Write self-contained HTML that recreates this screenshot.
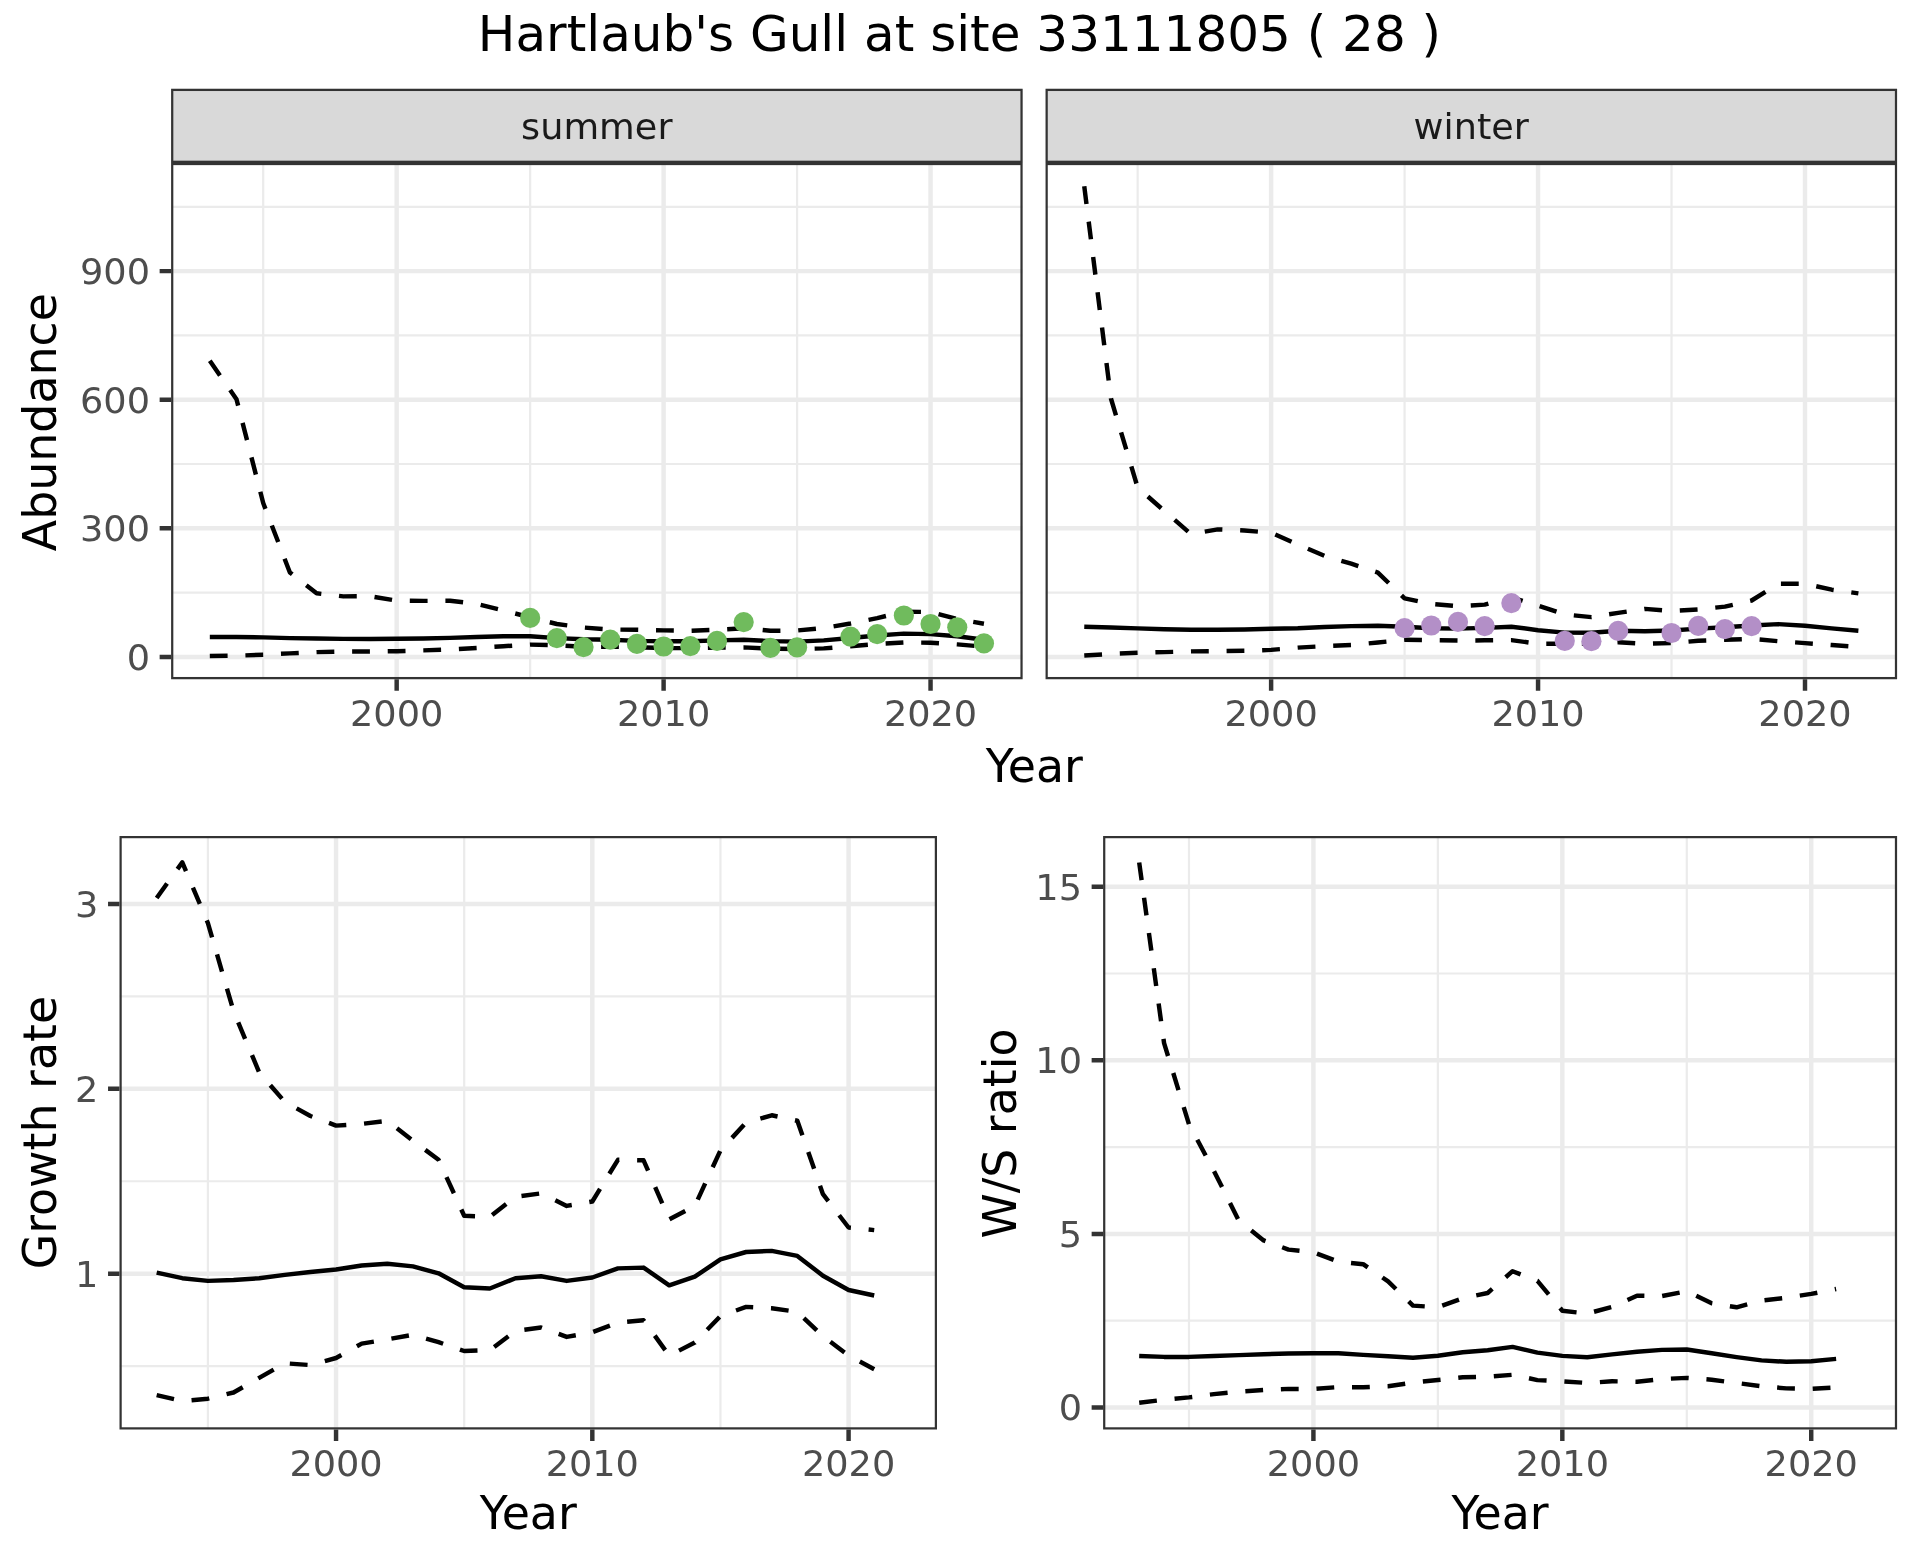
<!DOCTYPE html>
<html lang="en"><head><meta charset="utf-8"><title>Hartlaub's Gull at site 33111805</title>
<style>html,body{margin:0;padding:0;background:#fff}svg{display:block;will-change:transform}text{font-family:'DejaVu Sans', 'Liberation Sans', sans-serif}</style>
</head><body>
<svg width="1920" height="1560" viewBox="0 0 1920 1560">
<rect width="1920" height="1560" fill="#fff"/>
<text x="959.5" y="51.5" font-size="50" fill="#000" text-anchor="middle" transform="matrix(1 0 0 0.98 0 1.030)">Hartlaub's Gull at site 33111805 ( 28 )</text>
<clipPath id="c1"><rect x="171.1" y="162.9" width="851.55" height="516.3"/></clipPath>
<g clip-path="url(#c1)">
<rect x="171.1" y="162.9" width="851.55" height="516.3" fill="#fff"/>
<path d="M171.1 592.6H1022.65M171.1 464H1022.65M171.1 335.4H1022.65M171.1 206.8H1022.65M263.2 162.9V679.2M530.14 162.9V679.2M797.08 162.9V679.2" stroke="#EBEBEB" stroke-width="2.22" fill="none"/>
<path d="M171.1 656.9H1022.65M171.1 528.3H1022.65M171.1 399.7H1022.65M171.1 271.1H1022.65M396.67 162.9V679.2M663.61 162.9V679.2M930.55 162.9V679.2" stroke="#EBEBEB" stroke-width="4.45" fill="none"/>
<path d="M209.81 637L236.5 637L263.2 637.4L289.89 638.1L316.58 638.5L343.28 638.9L369.97 639L396.67 638.8L423.36 638.5L450.06 637.9L476.75 637L503.44 636.3L530.14 636.3L556.83 638.1L583.53 639.2L610.22 639.7L636.92 640.9L663.61 641.3L690.31 641.3L717 640.4L743.69 639.7L770.39 641.1L797.08 641.6L823.78 640.4L850.47 638L877.17 635.5L903.86 633.6L930.55 634.1L957.25 636.2L983.94 639.7" fill="none" stroke="#000" stroke-width="4.45" stroke-linejoin="round"/>
<path d="M209.81 656L236.5 655.7L263.2 654.7L289.89 653.4L316.58 652.1L343.28 651.6L369.97 651.5L396.67 651.2L423.36 650.4L450.06 649.5L476.75 648L503.44 646.2L530.14 644.6L556.83 645.3L583.53 646.7L610.22 646.7L636.92 647.2L663.61 648.1L690.31 648.1L717 647.6L743.69 647.4L770.39 648.6L797.08 649.1L823.78 648.4L850.47 646.2L877.17 643.9L903.86 642.5L930.55 642.7L957.25 644.4L983.94 646.7" fill="none" stroke="#000" stroke-width="4.45" stroke-linejoin="round" stroke-dasharray="17.8 17.8"/>
<path d="M209.81 360.8L236.5 399.2L263.2 503L289.89 572.5L316.58 593.3L343.28 596.4L369.97 596.2L396.67 600.7L423.36 600.9L450.06 600.7L476.75 604L503.44 610.5L530.14 617.3L556.83 624L583.53 627.5L610.22 629.5L636.92 629.8L663.61 630.4L690.31 630.7L717 629.8L743.69 628.2L770.39 630.8L797.08 630.5L823.78 628L850.47 623.5L877.17 618.1L903.86 611.6L930.55 612L957.25 619.1L983.94 623.7" fill="none" stroke="#000" stroke-width="4.45" stroke-linejoin="round" stroke-dasharray="17.8 17.8"/>
<circle cx="530.14" cy="617.9" r="10.1" fill="#70BB5D"/>
<circle cx="556.83" cy="638.1" r="10.1" fill="#70BB5D"/>
<circle cx="583.53" cy="647.1" r="10.1" fill="#70BB5D"/>
<circle cx="610.22" cy="639.7" r="10.1" fill="#70BB5D"/>
<circle cx="636.92" cy="643.9" r="10.1" fill="#70BB5D"/>
<circle cx="663.61" cy="646.5" r="10.1" fill="#70BB5D"/>
<circle cx="690.31" cy="646.2" r="10.1" fill="#70BB5D"/>
<circle cx="717" cy="640.9" r="10.1" fill="#70BB5D"/>
<circle cx="743.69" cy="622.1" r="10.1" fill="#70BB5D"/>
<circle cx="770.39" cy="647.9" r="10.1" fill="#70BB5D"/>
<circle cx="797.08" cy="647.4" r="10.1" fill="#70BB5D"/>
<circle cx="850.47" cy="636.6" r="10.1" fill="#70BB5D"/>
<circle cx="877.17" cy="634.1" r="10.1" fill="#70BB5D"/>
<circle cx="903.86" cy="615.5" r="10.1" fill="#70BB5D"/>
<circle cx="930.55" cy="624" r="10.1" fill="#70BB5D"/>
<circle cx="957.25" cy="627.3" r="10.1" fill="#70BB5D"/>
<circle cx="983.94" cy="643.4" r="10.1" fill="#70BB5D"/>
<rect x="171.1" y="162.9" width="851.55" height="516.3" fill="none" stroke="#333333" stroke-width="4.45"/>
</g>
<clipPath id="c2"><rect x="171.1" y="88.8" width="851.55" height="74.1"/></clipPath>
<rect x="171.1" y="88.8" width="851.55" height="74.1" fill="#D9D9D9" stroke="#333333" stroke-width="4.45" clip-path="url(#c2)"/>
<text x="596.77" y="138.8" font-size="36.67" fill="#1A1A1A" text-anchor="middle" transform="matrix(1 0 0 0.955 0 6.246)">summer</text>
<path d="M396.67 679.2V690.66M663.61 679.2V690.66M930.55 679.2V690.66" stroke="#333333" stroke-width="4.45" fill="none"/>
<text x="396.67" y="725.9" font-size="36.67" fill="#4D4D4D" text-anchor="middle" transform="matrix(1 0 0 0.945 0 39.925)">2000</text>
<text x="663.61" y="725.9" font-size="36.67" fill="#4D4D4D" text-anchor="middle" transform="matrix(1 0 0 0.945 0 39.925)">2010</text>
<text x="930.55" y="725.9" font-size="36.67" fill="#4D4D4D" text-anchor="middle" transform="matrix(1 0 0 0.945 0 39.925)">2020</text>
<path d="M159.64 656.9H171.1M159.64 528.3H171.1M159.64 399.7H171.1M159.64 271.1H171.1" stroke="#333333" stroke-width="4.45" fill="none"/>
<text x="149.99" y="669.9" font-size="36.67" fill="#4D4D4D" text-anchor="end" transform="matrix(1 0 0 0.945 0 36.845)">0</text>
<text x="149.99" y="541.3" font-size="36.67" fill="#4D4D4D" text-anchor="end" transform="matrix(1 0 0 0.945 0 29.772)">300</text>
<text x="149.99" y="412.7" font-size="36.67" fill="#4D4D4D" text-anchor="end" transform="matrix(1 0 0 0.945 0 22.699)">600</text>
<text x="149.99" y="284.1" font-size="36.67" fill="#4D4D4D" text-anchor="end" transform="matrix(1 0 0 0.945 0 15.626)">900</text>
<clipPath id="c3"><rect x="1045.55" y="162.9" width="851.55" height="516.3"/></clipPath>
<g clip-path="url(#c3)">
<rect x="1045.55" y="162.9" width="851.55" height="516.3" fill="#fff"/>
<path d="M1045.55 592.6H1897.1M1045.55 464H1897.1M1045.55 335.4H1897.1M1045.55 206.8H1897.1M1137.65 162.9V679.2M1404.59 162.9V679.2M1671.53 162.9V679.2" stroke="#EBEBEB" stroke-width="2.22" fill="none"/>
<path d="M1045.55 656.9H1897.1M1045.55 528.3H1897.1M1045.55 399.7H1897.1M1045.55 271.1H1897.1M1271.12 162.9V679.2M1538.06 162.9V679.2M1805 162.9V679.2" stroke="#EBEBEB" stroke-width="4.45" fill="none"/>
<path d="M1084.26 626.8L1110.95 627.5L1137.65 628.4L1164.34 629.3L1191.03 629.7L1217.73 629.7L1244.42 629.5L1271.12 628.8L1297.81 628.2L1324.51 627L1351.2 626.1L1377.89 625.7L1404.59 626.8L1431.28 628.2L1457.98 628.6L1484.67 627.9L1511.37 626.7L1538.06 630.2L1564.76 632.6L1591.45 632.8L1618.14 630.7L1644.84 631.2L1671.53 630.5L1698.23 628.6L1724.92 627.2L1751.62 625.5L1778.31 624.1L1805 625.8L1831.7 628.4L1858.39 630.7" fill="none" stroke="#000" stroke-width="4.45" stroke-linejoin="round"/>
<path d="M1084.26 655.5L1110.95 653.9L1137.65 652.8L1164.34 652.1L1191.03 651.4L1217.73 651.2L1244.42 650.8L1271.12 649.9L1297.81 647.6L1324.51 646.1L1351.2 645L1377.89 642.5L1404.59 639.8L1431.28 640.2L1457.98 640.6L1484.67 640.3L1511.37 640.1L1538.06 643.8L1564.76 643.8L1591.45 643.8L1618.14 642.2L1644.84 643.8L1671.53 643.1L1698.23 640.8L1724.92 639.8L1751.62 638.9L1778.31 641.2L1805 643.1L1831.7 645L1858.39 646.9" fill="none" stroke="#000" stroke-width="4.45" stroke-linejoin="round" stroke-dasharray="17.8 17.8"/>
<path d="M1084.26 186.3L1110.95 398.5L1137.65 487.5L1164.34 511L1191.03 534.1L1217.73 529.4L1244.42 530.5L1271.12 532.7L1297.81 544.6L1324.51 555.8L1351.2 563.7L1377.89 572.6L1404.59 598.4L1431.28 604L1457.98 606.2L1484.67 604.6L1511.37 597.3L1538.06 605.5L1564.76 614.5L1591.45 617.1L1618.14 612.9L1644.84 608.9L1671.53 611L1698.23 609.4L1724.92 606.6L1751.62 600.5L1778.31 583.8L1805 583.8L1831.7 589.7L1858.39 593.4" fill="none" stroke="#000" stroke-width="4.45" stroke-linejoin="round" stroke-dasharray="17.8 17.8"/>
<circle cx="1404.59" cy="628.2" r="10.1" fill="#B38FC7"/>
<circle cx="1431.28" cy="625.5" r="10.1" fill="#B38FC7"/>
<circle cx="1457.98" cy="621.9" r="10.1" fill="#B38FC7"/>
<circle cx="1484.67" cy="626.2" r="10.1" fill="#B38FC7"/>
<circle cx="1511.37" cy="603.1" r="10.1" fill="#B38FC7"/>
<circle cx="1564.76" cy="640.8" r="10.1" fill="#B38FC7"/>
<circle cx="1591.45" cy="641.2" r="10.1" fill="#B38FC7"/>
<circle cx="1618.14" cy="630.9" r="10.1" fill="#B38FC7"/>
<circle cx="1671.53" cy="633" r="10.1" fill="#B38FC7"/>
<circle cx="1698.23" cy="625.8" r="10.1" fill="#B38FC7"/>
<circle cx="1724.92" cy="629.1" r="10.1" fill="#B38FC7"/>
<circle cx="1751.62" cy="626.2" r="10.1" fill="#B38FC7"/>
<rect x="1045.55" y="162.9" width="851.55" height="516.3" fill="none" stroke="#333333" stroke-width="4.45"/>
</g>
<clipPath id="c4"><rect x="1045.55" y="88.8" width="851.55" height="74.1"/></clipPath>
<rect x="1045.55" y="88.8" width="851.55" height="74.1" fill="#D9D9D9" stroke="#333333" stroke-width="4.45" clip-path="url(#c4)"/>
<text x="1471.22" y="138.8" font-size="36.67" fill="#1A1A1A" text-anchor="middle" transform="matrix(1 0 0 0.955 0 6.246)">winter</text>
<path d="M1271.12 679.2V690.66M1538.06 679.2V690.66M1805 679.2V690.66" stroke="#333333" stroke-width="4.45" fill="none"/>
<text x="1271.12" y="725.9" font-size="36.67" fill="#4D4D4D" text-anchor="middle" transform="matrix(1 0 0 0.945 0 39.925)">2000</text>
<text x="1538.06" y="725.9" font-size="36.67" fill="#4D4D4D" text-anchor="middle" transform="matrix(1 0 0 0.945 0 39.925)">2010</text>
<text x="1805" y="725.9" font-size="36.67" fill="#4D4D4D" text-anchor="middle" transform="matrix(1 0 0 0.945 0 39.925)">2020</text>
<text x="56" y="422.1" font-size="45.83" fill="#000" text-anchor="middle" transform="rotate(-90 56 422.1)">Abundance</text>
<text x="1034.3" y="781.9" font-size="45.83" fill="#000" text-anchor="middle">Year</text>
<clipPath id="c5"><rect x="119.5" y="836" width="817.5" height="593.5"/></clipPath>
<g clip-path="url(#c5)">
<rect x="119.5" y="836" width="817.5" height="593.5" fill="#fff"/>
<path d="M119.5 1366.15H937M119.5 1181.25H937M119.5 996.35H937M207.91 836V1429.5M464.18 836V1429.5M720.45 836V1429.5" stroke="#EBEBEB" stroke-width="2.22" fill="none"/>
<path d="M119.5 1273.7H937M119.5 1088.8H937M119.5 903.9H937M336.05 836V1429.5M592.32 836V1429.5M848.59 836V1429.5" stroke="#EBEBEB" stroke-width="4.45" fill="none"/>
<path d="M156.66 1272.6L182.29 1278.2L207.91 1280.9L233.54 1280L259.17 1278.2L284.79 1274.9L310.42 1272L336.05 1269.5L361.67 1265.5L387.3 1263.7L412.93 1266.4L438.56 1273.3L464.18 1287.3L489.81 1288.5L515.44 1278.3L541.06 1276.2L566.69 1280.9L592.32 1277.5L617.94 1268.4L643.57 1267.6L669.2 1285.3L694.83 1276.7L720.45 1259.3L746.08 1252L771.71 1250.9L797.33 1255.9L822.96 1275.7L848.59 1290L874.21 1295.5" fill="none" stroke="#000" stroke-width="4.45" stroke-linejoin="round"/>
<path d="M156.66 1395.1L182.29 1401L207.91 1398.7L233.54 1392.5L259.17 1377.9L284.79 1363.3L310.42 1365.1L336.05 1358L361.67 1343.6L387.3 1339.4L412.93 1334.7L438.56 1342.2L464.18 1351L489.81 1350.2L515.44 1330.9L541.06 1327.5L566.69 1336.9L592.32 1332.2L617.94 1322.6L643.57 1320.2L669.2 1355.6L694.83 1342.6L720.45 1316L746.08 1306.9L771.71 1308.2L797.33 1311.9L822.96 1336.1L848.59 1355.6L874.21 1369.2" fill="none" stroke="#000" stroke-width="4.45" stroke-linejoin="round" stroke-dasharray="17.8 17.8"/>
<path d="M156.66 898L182.29 862.4L207.91 923.1L233.54 1011.2L259.17 1072.3L284.79 1101.9L310.42 1116L336.05 1125.6L361.67 1123.9L387.3 1120.9L412.93 1140.7L438.56 1159.8L464.18 1215.8L489.81 1216.8L515.44 1196.8L541.06 1193.4L566.69 1205.9L592.32 1201.5L617.94 1159.8L643.57 1160.3L669.2 1219.4L694.83 1205.9L720.45 1150.4L746.08 1122.6L771.71 1115.3L797.33 1120.7L822.96 1194.2L848.59 1227.5L874.21 1230.1" fill="none" stroke="#000" stroke-width="4.45" stroke-linejoin="round" stroke-dasharray="17.8 17.8"/>
<rect x="119.5" y="836" width="817.5" height="593.5" fill="none" stroke="#333333" stroke-width="4.45"/>
</g>
<path d="M336.05 1429.5V1440.96M592.32 1429.5V1440.96M848.59 1429.5V1440.96" stroke="#333333" stroke-width="4.45" fill="none"/>
<path d="M108.04 1273.7H119.5M108.04 1088.8H119.5M108.04 903.9H119.5" stroke="#333333" stroke-width="4.45" fill="none"/>
<text x="336.05" y="1475.9" font-size="36.67" fill="#4D4D4D" text-anchor="middle" transform="matrix(1 0 0 0.945 0 81.175)">2000</text>
<text x="592.32" y="1475.9" font-size="36.67" fill="#4D4D4D" text-anchor="middle" transform="matrix(1 0 0 0.945 0 81.175)">2010</text>
<text x="848.59" y="1475.9" font-size="36.67" fill="#4D4D4D" text-anchor="middle" transform="matrix(1 0 0 0.945 0 81.175)">2020</text>
<text x="98.39" y="1286.7" font-size="36.67" fill="#4D4D4D" text-anchor="end" transform="matrix(1 0 0 0.945 0 70.769)">1</text>
<text x="98.39" y="1101.8" font-size="36.67" fill="#4D4D4D" text-anchor="end" transform="matrix(1 0 0 0.945 0 60.599)">2</text>
<text x="98.39" y="916.9" font-size="36.67" fill="#4D4D4D" text-anchor="end" transform="matrix(1 0 0 0.945 0 50.430)">3</text>
<text x="56" y="1132.6" font-size="45.83" fill="#000" text-anchor="middle" transform="rotate(-90 56 1132.6)">Growth rate</text>
<text x="528.25" y="1528.75" font-size="45.83" fill="#000" text-anchor="middle">Year</text>
<clipPath id="c6"><rect x="1103.1" y="836" width="794" height="593.5"/></clipPath>
<g clip-path="url(#c6)">
<rect x="1103.1" y="836" width="794" height="593.5" fill="#fff"/>
<path d="M1103.1 1320.7H1897.1M1103.1 1147.1H1897.1M1103.1 973.5H1897.1M1188.97 836V1429.5M1437.87 836V1429.5M1686.78 836V1429.5" stroke="#EBEBEB" stroke-width="2.22" fill="none"/>
<path d="M1103.1 1407.5H1897.1M1103.1 1233.9H1897.1M1103.1 1060.3H1897.1M1103.1 886.7H1897.1M1313.42 836V1429.5M1562.33 836V1429.5M1811.23 836V1429.5" stroke="#EBEBEB" stroke-width="4.45" fill="none"/>
<path d="M1139.19 1356L1164.08 1356.9L1188.97 1356.9L1213.86 1356L1238.75 1355.1L1263.64 1354.2L1288.53 1353.5L1313.42 1353.3L1338.31 1353.3L1363.2 1354.9L1388.09 1356.2L1412.98 1357.8L1437.87 1355.8L1462.76 1352.2L1487.65 1350.2L1512.55 1346.9L1537.44 1352.6L1562.33 1355.9L1587.22 1357.3L1612.11 1354.4L1637 1351.7L1661.89 1349.9L1686.78 1349.5L1711.67 1353.3L1736.56 1357.1L1761.45 1360.4L1786.34 1361.8L1811.23 1361.3L1836.12 1358.9" fill="none" stroke="#000" stroke-width="4.45" stroke-linejoin="round"/>
<path d="M1139.19 1402.8L1164.08 1399.7L1188.97 1397.4L1213.86 1394.1L1238.75 1391.6L1263.64 1390L1288.53 1388.9L1313.42 1388.9L1338.31 1387.1L1363.2 1387.3L1388.09 1386.2L1412.98 1382.6L1437.87 1380L1462.76 1377.3L1487.65 1376.8L1512.55 1374.8L1537.44 1380.1L1562.33 1381.3L1587.22 1383L1612.11 1381.3L1637 1381.7L1661.89 1379L1686.78 1377.9L1711.67 1379.7L1736.56 1383L1761.45 1386.2L1786.34 1388.4L1811.23 1388.9L1836.12 1387.5" fill="none" stroke="#000" stroke-width="4.45" stroke-linejoin="round" stroke-dasharray="17.8 17.8"/>
<path d="M1139.19 862.5L1164.08 1043.1L1188.97 1124.2L1213.86 1170.8L1238.75 1220.5L1263.64 1240.4L1288.53 1249.6L1313.42 1252.2L1338.31 1261.7L1363.2 1264.2L1388.09 1281.4L1412.98 1305.6L1437.87 1307.2L1462.76 1298.2L1487.65 1293L1512.55 1271.2L1537.44 1280.9L1562.33 1310.7L1587.22 1313.6L1612.11 1306.9L1637 1295.7L1661.89 1296.1L1686.78 1291.2L1711.67 1303.3L1736.56 1307.3L1761.45 1300.6L1786.34 1297.7L1811.23 1293.9L1836.12 1289" fill="none" stroke="#000" stroke-width="4.45" stroke-linejoin="round" stroke-dasharray="17.8 17.8"/>
<rect x="1103.1" y="836" width="794" height="593.5" fill="none" stroke="#333333" stroke-width="4.45"/>
</g>
<path d="M1313.42 1429.5V1440.96M1562.33 1429.5V1440.96M1811.23 1429.5V1440.96" stroke="#333333" stroke-width="4.45" fill="none"/>
<path d="M1091.64 1407.5H1103.1M1091.64 1233.9H1103.1M1091.64 1060.3H1103.1M1091.64 886.7H1103.1" stroke="#333333" stroke-width="4.45" fill="none"/>
<text x="1313.42" y="1475.9" font-size="36.67" fill="#4D4D4D" text-anchor="middle" transform="matrix(1 0 0 0.945 0 81.175)">2000</text>
<text x="1562.33" y="1475.9" font-size="36.67" fill="#4D4D4D" text-anchor="middle" transform="matrix(1 0 0 0.945 0 81.175)">2010</text>
<text x="1811.23" y="1475.9" font-size="36.67" fill="#4D4D4D" text-anchor="middle" transform="matrix(1 0 0 0.945 0 81.175)">2020</text>
<text x="1081.99" y="1420.5" font-size="36.67" fill="#4D4D4D" text-anchor="end" transform="matrix(1 0 0 0.945 0 78.128)">0</text>
<text x="1081.99" y="1246.9" font-size="36.67" fill="#4D4D4D" text-anchor="end" transform="matrix(1 0 0 0.945 0 68.580)">5</text>
<text x="1081.99" y="1073.3" font-size="36.67" fill="#4D4D4D" text-anchor="end" transform="matrix(1 0 0 0.945 0 59.032)">10</text>
<text x="1081.99" y="899.7" font-size="36.67" fill="#4D4D4D" text-anchor="end" transform="matrix(1 0 0 0.945 0 49.484)">15</text>
<text x="1015.8" y="1133.5" font-size="45.83" fill="#000" text-anchor="middle" transform="rotate(-90 1015.8 1133.5)">W/S ratio</text>
<text x="1500.1" y="1528.75" font-size="45.83" fill="#000" text-anchor="middle">Year</text>
</svg>
</body></html>
